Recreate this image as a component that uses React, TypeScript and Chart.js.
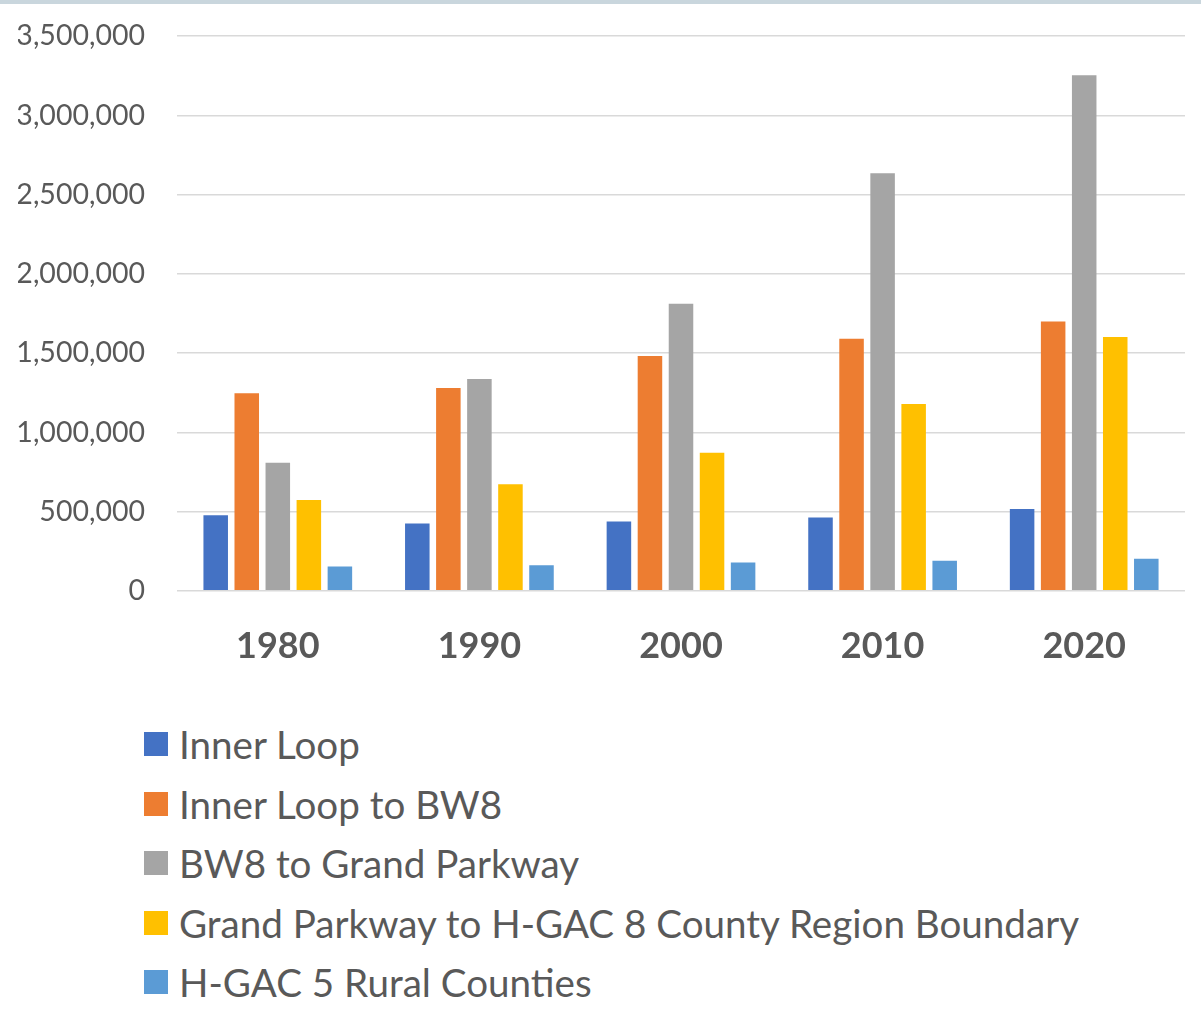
import React, { useEffect, useRef } from "react";
import { Chart, registerables } from "chart.js";

Chart.register(...registerables);

const categories = ["1980", "1990", "2000", "2010", "2020"];
const seriesNames = [
  "Inner Loop",
  "Inner Loop to BW8",
  "BW8 to Grand Parkway",
  "Grand Parkway to H-GAC 8 County Region Boundary",
  "H-GAC 5 Rural Counties",
];
const innerLoop = [476000, 424000, 438000, 463000, 516000];
const innerLoopToBW8 = [1247000, 1279000, 1481000, 1590000, 1699000];
const bw8ToGrandParkway = [808000, 1336000, 1811000, 2635000, 3253000];
const grandParkwayToBoundary = [573000, 673000, 871000, 1178000, 1601000];
const ruralCounties = [154000, 161000, 178000, 190000, 203000];
const seriesColors = ["#4472c4", "#ed7d31", "#a5a5a5", "#ffc000", "#5b9bd5"];
const yTicks = [0, 500000, 1000000, 1500000, 2000000, 2500000, 3000000, 3500000];

const FONT = "Lato, 'Open Sans', sans-serif";
const TEXT = "#595959";

export default function App() {
  const ref = useRef<HTMLCanvasElement | null>(null);

  useEffect(() => {
    document.body.style.margin = "0";
    const seriesData = [innerLoop, innerLoopToBW8, bw8ToGrandParkway, grandParkwayToBoundary, ruralCounties];
    const chart = new Chart(ref.current as HTMLCanvasElement, {
      type: "bar",
      data: {
        labels: categories,
        datasets: seriesNames.map((name, i) => ({
          label: name,
          data: seriesData[i],
          backgroundColor: seriesColors[i],
          borderWidth: 0,
          barPercentage: 0.79,
          categoryPercentage: 0.77,
        })),
      },
      options: {
        responsive: false,
        animation: false,
        layout: { padding: { top: 23, left: 18, right: 16, bottom: 10 } },
        plugins: { legend: { display: false }, tooltip: { enabled: false } },
        scales: {
          x: {
            grid: { display: false, drawTicks: false },
            border: { display: false },
            ticks: {
              color: TEXT,
              font: { family: FONT, size: 36, weight: "bold" },
              padding: 34,
            },
          },
          y: {
            min: 0,
            max: 3500000,
            afterBuildTicks: (scale: any) => {
              scale.ticks = yTicks.map((v) => ({ value: v }));
            },
            afterFit: (scale: any) => {
              scale.width = 159;
            },
            grid: { color: "#d9d9d9", lineWidth: 1.5, drawTicks: false },
            border: { display: false },
            ticks: {
              color: TEXT,
              font: { family: FONT, size: 28.5 },
              padding: 32,
              callback: (v: any) => Number(v).toLocaleString("en-US"),
            },
          },
        },
      },
    });
    return () => chart.destroy();
  }, []);

  return (
    <div style={{ position: "relative", width: 1201, height: 1035, background: "#fff", overflow: "hidden" }}>
      <canvas ref={ref} width={1201} height={725} style={{ position: "absolute", left: 0, top: -13 }} />
      <div style={{ position: "absolute", left: 0, top: 0, width: 1201, height: 4, background: "#c9d6dd" }} />
      {seriesNames.map((name, i) => (
        <div
          key={name}
          style={{
            position: "absolute",
            left: 144,
            top: 715 + i * 59.6,
            height: 58,
            display: "flex",
            alignItems: "center",
            whiteSpace: "nowrap",
            fontFamily: FONT,
            fontSize: 38.6,
            color: TEXT,
          }}
        >
          <span style={{ display: "inline-block", width: 24, height: 24, background: seriesColors[i], marginRight: 11 }} />
          <span>{name}</span>
        </div>
      ))}
    </div>
  );
}
